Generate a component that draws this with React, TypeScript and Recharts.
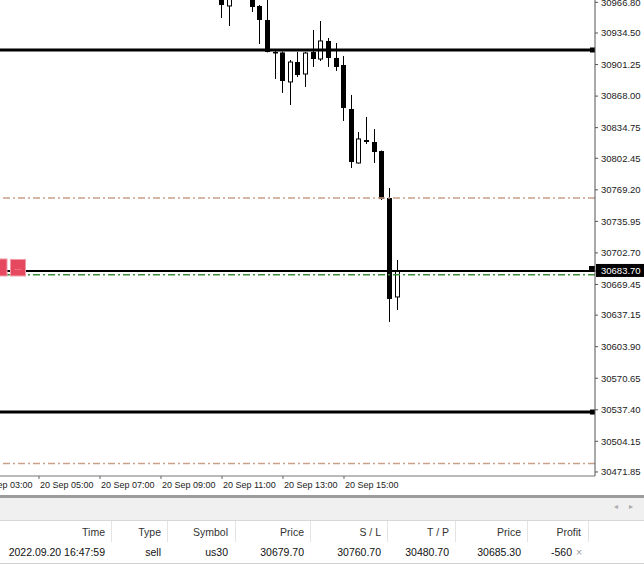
import React from "react";
import { ComposedChart, Bar, XAxis, YAxis, ReferenceLine } from "recharts";

// ---------- data ----------
const times = ["11:00", "11:15", "12:00", "12:15", "12:30", "12:45", "13:00", "13:15", "13:30", "13:45", "14:00", "14:15", "14:30", "14:45", "15:00", "15:15", "15:30", "15:45", "16:00", "16:15", "16:30", "16:45"];
const opens = [30978, 30963.0, 30976, 30963.0, 30948.2, 30914.5, 30914.0, 30882.9, 30903.9, 30891.3, 30914.5, 30907.1, 30926.1, 30908.2, 30900.8, 30854.4, 30797.5, 30821.7, 30819.6, 30810.1, 30760.6, 30656.3];
const highs = [30985, 30984, 30982, 30964.0, 30972, 30915.5, 30915.0, 30906.0, 30914.5, 30914.5, 30937.7, 30947.1, 30929.2, 30924.0, 30910.3, 30869.2, 30830.2, 30846.0, 30833.3, 30810.6, 30771.1, 30695.3];
const lows = [30950.3, 30941.9, 30956.6, 30922.9, 30914.0, 30886.0, 30871.3, 30858.6, 30888.1, 30877.6, 30898.7, 30905.0, 30898.7, 30894.5, 30841.8, 30792.2, 30797.0, 30817.5, 30797.5, 30758.5, 30630.0, 30642.6];
const closes = [30964.0, 30976, 30961.9, 30948.2, 30914.5, 30913.4, 30883.9, 30903.9, 30890.2, 30913.4, 30907.1, 30926.1, 30908.2, 30898.7, 30855.5, 30798.5, 30822.8, 30819.6, 30809.1, 30759.5, 30654.2, 30683.7];

const xTickTimes = ["03:00", "05:00", "07:00", "09:00", "11:00", "13:00", "15:00"];
const xTickDate = "20 Sep";
const yTicks = [30966.8, 30934.5, 30901.25, 30868.0, 30834.75, 30802.45, 30769.2, 30735.95, 30702.7, 30683.7, 30669.45, 30637.15, 30603.9, 30570.65, 30537.4, 30504.15, 30471.85];

const bidPrice = 30683.7;
const entryPrice = 30679.7;
const stopLoss = 30760.7;
const takeProfit = 30480.7;
const userLines = [30916.6, 30535.0];

const tableHeaders = ["Time", "Type", "Symbol", "Price", "S / L", "T / P", "Price", "Profit"];
const tableRow = ["2022.09.20 16:47:59", "sell", "us30", "30679.70", "30760.70", "30480.70", "30685.30", "-560"];

// ---------- layout ----------
const xDomain = [9.64, 92.92];
const yDomain = [30467.6, 30969.28];
const colRights = [105, 161, 228, 304, 381, 449, 521, 581];
const colSeps = [111, 167, 235, 310, 387, 455, 527, 588];

const slotOf = (t: string) => {
  const [h, m] = t.split(":").map(Number);
  return h * 4 + m / 15;
};

const data = times.map((t, i) => ({
  t: slotOf(t),
  range: [lows[i], highs[i]],
  open: opens[i],
  high: highs[i],
  low: lows[i],
  close: closes[i],
}));

const xTicks = xTickTimes.map(slotOf);
const labelOfSlot = (v: number) => {
  const i = xTicks.indexOf(v);
  return i >= 0 ? `${xTickDate} ${xTickTimes[i]}` : "";
};

const FONT = "'Liberation Sans', Arial, sans-serif";

function Candle(props: any) {
  const { x, y, width, height, payload } = props;
  if (x == null || y == null || !payload) return null;
  const { open, close, high, low } = payload;
  const top0 = Math.min(y, y + height);
  const h = Math.abs(height);
  const k = h / (high - low);
  const py = (v: number) => top0 + (high - v) * k;
  const cx = Math.floor(x + width / 2) + 0.5;
  const top = py(Math.max(open, close));
  const bot = py(Math.min(open, close));
  const bull = close > open;
  return (
    <g>
      <line x1={cx} x2={cx} y1={top0} y2={top0 + h} stroke="#000" strokeWidth={1} />
      {bull ? (
        <rect x={cx - 2} y={top} width={4} height={Math.max(bot - top, 1)} fill="#fff" stroke="#000" strokeWidth={1} />
      ) : (
        <rect x={cx - 2.5} y={top} width={5} height={Math.max(bot - top, 1.5)} fill="#000" />
      )}
    </g>
  );
}

function XTick(props: any) {
  const { x, y, payload } = props;
  return (
    <text x={x + 1} y={y + 9} fontSize={9} fill="#222" fontFamily={FONT} textAnchor="start">
      {labelOfSlot(payload.value)}
    </text>
  );
}

function YTick(props: any) {
  const { x, y, payload } = props;
  const v = payload.value as number;
  const txt = v.toFixed(2);
  if (Math.abs(v - bidPrice) < 1e-6) {
    return (
      <g>
        <rect x={x - 5} y={y - 7} width={48} height={13} fill="#000" />
        <text x={x} y={y + 3.3} fontSize={9.5} fill="#fff" fontFamily={FONT} textAnchor="start">
          {txt}
        </text>
      </g>
    );
  }
  return (
    <text x={x} y={y + 3.3} fontSize={9.5} fill="#222" fontFamily={FONT} textAnchor="start">
      {txt}
    </text>
  );
}

const EndMarker = (props: any) => {
  const vb = props.viewBox || {};
  const xr = (vb.x || 0) + (vb.width || 0);
  const yy = vb.y || 0;
  return <rect x={xr - 5} y={yy - 2.5} width={5} height={5} fill="#000" />;
};

const BidLabel = (props: any) => {
  const vb = props.viewBox || {};
  const x0 = vb.x || 0;
  const xr = x0 + (vb.width || 0);
  const yy = vb.y || 0;
  return (
    <g>
      <rect x={x0 + 33} y={yy - 12} width={14} height={17} fill="#e6485f" stroke="#f29aa6" strokeWidth={1} />
      <rect x={x0 + 50.5} y={yy - 11.5} width={15} height={16.5} fill="#e6485f" stroke="#f29aa6" strokeWidth={1} />
      <text x={x0 + 58} y={yy - 1} fontSize={8} fill="#f7c4cb" fontFamily={FONT} textAnchor="middle">...</text>
      <rect x={xr - 6} y={yy - 5} width={6} height={4} fill="#000" />
    </g>
  );
};

const cell = (text: string, right: number, top: number, color: string, key: string) => (
  <span
    key={key}
    style={{
      position: "absolute",
      top,
      right: 644 - right,
      fontFamily: FONT,
      fontSize: 10.5,
      color,
      whiteSpace: "nowrap",
      lineHeight: "14px",
    }}
  >
    {text}
  </span>
);

export default function App() {
  return (
    <div style={{ position: "absolute", left: 0, top: 0, width: 644, height: 565, overflow: "hidden", background: "#fff" }}>
      <div style={{ position: "absolute", left: -40, top: 0 }}>
        <ComposedChart width={684} height={494} data={data} margin={{ top: 0, right: 0, bottom: 0, left: 0 }}>
          <XAxis
            type="number"
            dataKey="t"
            domain={xDomain}
            allowDataOverflow
            ticks={xTicks}
            interval={0}
            height={18}
            tickSize={3}
            tickMargin={0}
            tickLine={{ stroke: "#666" }}
            axisLine={{ stroke: "#777" }}
            tick={<XTick />}
          />
          <YAxis
            orientation="right"
            type="number"
            domain={yDomain}
            allowDataOverflow
            ticks={yTicks}
            interval={0}
            width={49}
            tickSize={3}
            tickMargin={3}
            tickLine={{ stroke: "#555" }}
            axisLine={{ stroke: "#555" }}
            tick={<YTick />}
          />
          <ReferenceLine y={stopLoss} stroke="#c9a089" strokeWidth={1.5} strokeDasharray="7 3 2 3" />
          <ReferenceLine y={takeProfit} stroke="#c9a089" strokeWidth={1.5} strokeDasharray="7 3 2 3" />
          <ReferenceLine y={entryPrice} stroke="#3f8f3f" strokeWidth={1.5} strokeDasharray="7 3 2 3" />
          {userLines.map((v) => (
            <ReferenceLine key={v} y={v} stroke="#000" strokeWidth={3} label={EndMarker} />
          ))}
          <ReferenceLine y={bidPrice} stroke="#000" strokeWidth={2} label={BidLabel} />
          <Bar dataKey="range" barSize={5} shape={Candle} isAnimationActive={false} />
        </ComposedChart>
      </div>

      {/* terminal panel */}
      <div style={{ position: "absolute", left: 0, top: 495, width: 644, height: 3, background: "#9c9c9c" }} />
      <div style={{ position: "absolute", left: 0, top: 498, width: 644, height: 22, background: "#f0f0f0" }}>
        <span style={{ position: "absolute", left: 614, top: 4, fontSize: 8, color: "#aaa", fontFamily: FONT }}>◂</span>
        <span style={{ position: "absolute", left: 629, top: 4, fontSize: 8, color: "#aaa", fontFamily: FONT }}>▸</span>
      </div>
      <div style={{ position: "absolute", left: 0, top: 520, width: 644, height: 1, background: "#d6d6d6" }} />
      {colSeps.map((s, i) => (
        <div key={"sep" + i} style={{ position: "absolute", left: s, top: 521, width: 1, height: 21, background: "#e4e4e4" }} />
      ))}
      {tableHeaders.map((h, i) => cell(h, colRights[i], 525, "#333", "h" + i))}
      {tableRow.map((d, i) => cell(d, i === 7 ? 572 : colRights[i], 545, "#111", "d" + i))}
      <span style={{ position: "absolute", left: 576, top: 545, fontFamily: FONT, fontSize: 10.5, color: "#999", lineHeight: "14px" }}>×</span>
      <div style={{ position: "absolute", left: 0, top: 563, width: 644, height: 1, background: "#d0d0d0" }} />
    </div>
  );
}
